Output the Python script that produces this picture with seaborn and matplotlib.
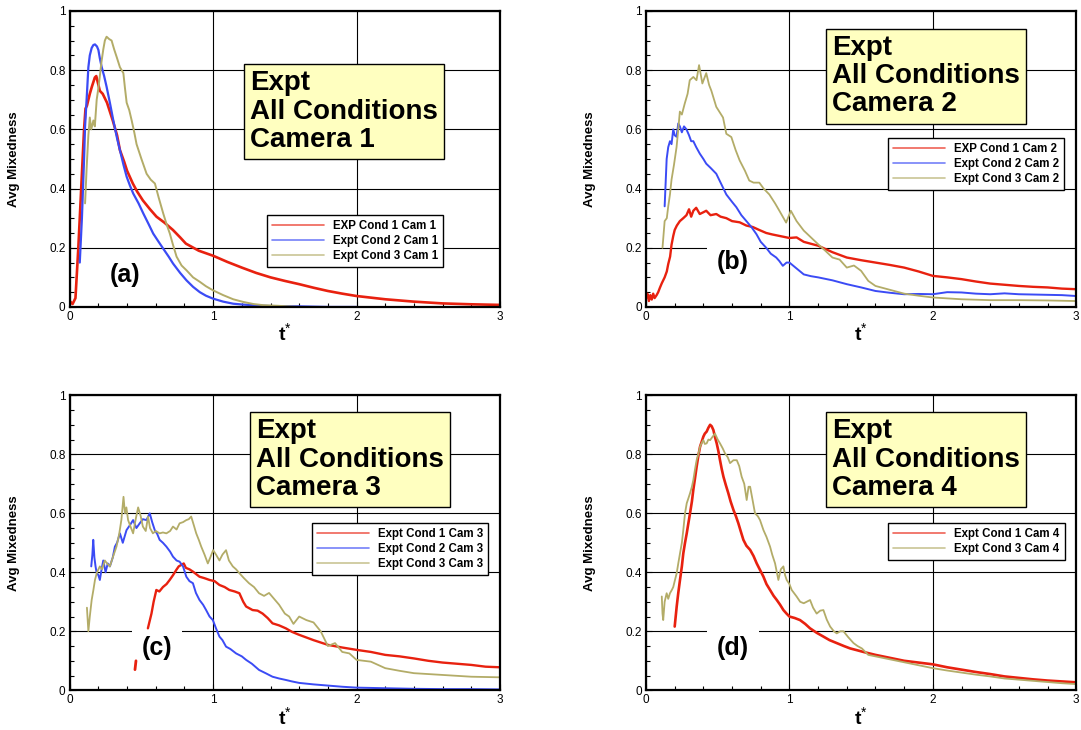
import matplotlib
matplotlib.use("Agg")
import matplotlib.pyplot as plt
from matplotlib.ticker import MultipleLocator, FuncFormatter
import seaborn as sns

# ---------------- data ----------------
# panel (a) - camera 1
a_red_t = [0.0, 0.02, 0.04, 0.06, 0.07, 0.085, 0.1, 0.11, 0.12, 0.13,
           0.14, 0.155, 0.165, 0.175, 0.185, 0.195, 0.21, 0.23, 0.26, 0.28,
           0.30, 0.33, 0.35, 0.38, 0.40, 0.44, 0.47, 0.51, 0.56, 0.605,
           0.66, 0.72, 0.77, 0.81, 0.9, 1.0, 1.1, 1.2, 1.3, 1.4,
           1.5, 1.6, 1.7, 1.8, 1.9, 2.0, 2.2, 2.4, 2.6, 2.8, 3.0]
a_red = [0.02, 0.01, 0.03, 0.2, 0.3, 0.45, 0.6, 0.67, 0.68, 0.70,
         0.72, 0.745, 0.76, 0.775, 0.78, 0.76, 0.73, 0.72, 0.69, 0.66,
         0.63, 0.58, 0.53, 0.49, 0.46, 0.417, 0.39, 0.36, 0.33, 0.305,
         0.285, 0.26, 0.235, 0.214, 0.19, 0.173, 0.152, 0.133, 0.115, 0.10,
         0.088, 0.077, 0.065, 0.054, 0.045, 0.037, 0.026, 0.018, 0.012, 0.009, 0.007]
a_blue_t = [0.07, 0.085, 0.1, 0.107, 0.12, 0.13, 0.14, 0.153, 0.165, 0.176,
            0.19, 0.2, 0.21, 0.223, 0.24, 0.257, 0.28, 0.304, 0.33, 0.35,
            0.375, 0.397, 0.42, 0.443, 0.48, 0.513, 0.55, 0.582, 0.62, 0.652,
            0.69, 0.72, 0.77, 0.814, 0.86, 0.907, 0.95, 1.0, 1.07, 1.14,
            1.21, 1.28, 1.4, 1.6, 1.8, 2.0]
a_blue = [0.15, 0.3, 0.5, 0.61, 0.72, 0.81, 0.85, 0.875, 0.885, 0.887,
          0.88, 0.868, 0.84, 0.81, 0.78, 0.744, 0.69, 0.63, 0.57, 0.53,
          0.48, 0.44, 0.41, 0.383, 0.35, 0.316, 0.28, 0.248, 0.22, 0.197,
          0.17, 0.147, 0.115, 0.09, 0.068, 0.05, 0.038, 0.028, 0.018, 0.011,
          0.008, 0.006, 0.003, 0.002, 0.0, 0.0]
a_olive_t = [0.107, 0.118, 0.13, 0.14, 0.15, 0.165, 0.175, 0.188, 0.2, 0.21,
             0.222, 0.234, 0.245, 0.257, 0.275, 0.292, 0.31, 0.327, 0.35, 0.374,
             0.385, 0.397, 0.415, 0.432, 0.45, 0.466, 0.5, 0.536, 0.565, 0.594,
             0.62, 0.652, 0.675, 0.698, 0.72, 0.745, 0.78, 0.814, 0.86, 0.907,
             0.95, 1.0, 1.07, 1.14, 1.21, 1.28, 1.35, 1.45, 1.6]
a_olive = [0.35, 0.47, 0.58, 0.64, 0.6, 0.63, 0.61, 0.70, 0.74, 0.78,
           0.83, 0.87, 0.9, 0.913, 0.905, 0.90, 0.87, 0.845, 0.81, 0.79,
           0.74, 0.69, 0.665, 0.63, 0.59, 0.55, 0.50, 0.45, 0.43, 0.417,
           0.37, 0.316, 0.28, 0.248, 0.21, 0.17, 0.14, 0.124, 0.10, 0.085,
           0.07, 0.056, 0.04, 0.026, 0.017, 0.01, 0.006, 0.004, 0.0]

# panel (b) - camera 2
b_red_t = [0.0, 0.01, 0.02, 0.03, 0.04, 0.05, 0.06, 0.074, 0.085, 0.097,
           0.11, 0.13, 0.145, 0.155, 0.168, 0.178, 0.19, 0.2, 0.215, 0.236,
           0.26, 0.282, 0.3, 0.315, 0.33, 0.35, 0.375, 0.4, 0.42, 0.45,
           0.49, 0.52, 0.56, 0.6, 0.653, 0.7, 0.745, 0.79, 0.838, 0.88,
           0.93, 1.0, 1.05, 1.1, 1.2, 1.3, 1.4, 1.5, 1.6, 1.7,
           1.8, 1.9, 2.0, 2.1, 2.2, 2.3, 2.4, 2.5, 2.6, 2.7,
           2.8, 2.9, 3.0]
b_red = [0.03, 0.045, 0.02, 0.04, 0.025, 0.045, 0.03, 0.04, 0.05, 0.065,
         0.08, 0.1, 0.12, 0.145, 0.17, 0.21, 0.24, 0.26, 0.275, 0.29,
         0.30, 0.31, 0.33, 0.305, 0.325, 0.335, 0.314, 0.32, 0.325, 0.31,
         0.314, 0.305, 0.30, 0.29, 0.286, 0.275, 0.27, 0.26, 0.25, 0.245,
         0.24, 0.233, 0.235, 0.22, 0.207, 0.185, 0.167, 0.158, 0.15, 0.142,
         0.133, 0.12, 0.105, 0.1, 0.094, 0.086, 0.079, 0.075, 0.071, 0.068,
         0.066, 0.062, 0.06]
b_blue_t = [0.13, 0.137, 0.144, 0.155, 0.167, 0.178, 0.19, 0.2, 0.213, 0.225,
            0.236, 0.25, 0.265, 0.282, 0.3, 0.315, 0.33, 0.35, 0.375, 0.4,
            0.42, 0.45, 0.49, 0.52, 0.56, 0.6, 0.63, 0.665, 0.7, 0.735,
            0.77, 0.8, 0.838, 0.87, 0.908, 0.93, 0.954, 0.98, 1.0, 1.05,
            1.1, 1.15, 1.2, 1.3, 1.4, 1.5, 1.6, 1.7, 1.8, 1.9,
            2.0, 2.1, 2.2, 2.3, 2.4, 2.5, 2.6, 2.7, 2.8, 2.9, 3.0]
b_blue = [0.34, 0.42, 0.5, 0.54, 0.56, 0.55, 0.60, 0.58, 0.575, 0.62,
          0.61, 0.59, 0.61, 0.60, 0.58, 0.56, 0.56, 0.54, 0.518, 0.50,
          0.484, 0.47, 0.45, 0.42, 0.38, 0.355, 0.337, 0.31, 0.29, 0.27,
          0.246, 0.22, 0.2, 0.18, 0.167, 0.155, 0.139, 0.15, 0.15, 0.13,
          0.11, 0.104, 0.1, 0.09, 0.077, 0.066, 0.054, 0.048, 0.043, 0.044,
          0.043, 0.05, 0.049, 0.045, 0.043, 0.046, 0.043, 0.042, 0.041, 0.04, 0.037]
b_olive_t = [0.115, 0.13, 0.145, 0.155, 0.167, 0.178, 0.195, 0.213, 0.225, 0.236,
             0.25, 0.27, 0.29, 0.305, 0.33, 0.352, 0.37, 0.393, 0.42, 0.44,
             0.456, 0.49, 0.537, 0.56, 0.595, 0.625, 0.653, 0.69, 0.72, 0.75,
             0.79, 0.82, 0.86, 0.9, 0.93, 0.977, 1.01, 1.05, 1.1, 1.15,
             1.2, 1.25, 1.3, 1.35, 1.4, 1.45, 1.5, 1.55, 1.6, 1.7,
             1.8, 1.9, 2.0, 2.2, 2.4, 2.6, 2.8, 3.0]
b_olive = [0.2, 0.29, 0.3, 0.34, 0.38, 0.43, 0.48, 0.54, 0.6, 0.66,
           0.65, 0.687, 0.72, 0.766, 0.777, 0.766, 0.817, 0.755, 0.79, 0.75,
           0.73, 0.676, 0.64, 0.585, 0.574, 0.53, 0.495, 0.46, 0.427, 0.42,
           0.42, 0.40, 0.38, 0.35, 0.325, 0.285, 0.325, 0.29, 0.258, 0.235,
           0.212, 0.19, 0.167, 0.16, 0.133, 0.14, 0.122, 0.088, 0.071, 0.058,
           0.045, 0.038, 0.032, 0.026, 0.023, 0.023, 0.022, 0.02]

# panel (c) - camera 3
c_red_stub_t = [0.455, 0.462]
c_red_stub = [0.07, 0.10]
c_red_t = [0.545, 0.56, 0.57, 0.585, 0.604, 0.625, 0.65, 0.675, 0.697, 0.72,
           0.743, 0.76, 0.778, 0.795, 0.81, 0.835, 0.86, 0.905, 0.94, 0.975,
           1.01, 1.044, 1.08, 1.113, 1.15, 1.183, 1.21, 1.23, 1.275, 1.31,
           1.345, 1.38, 1.414, 1.46, 1.507, 1.55, 1.6, 1.7, 1.8, 1.9,
           2.0, 2.1, 2.2, 2.3, 2.4, 2.5, 2.6, 2.7, 2.8, 2.9, 3.0]
c_red = [0.21, 0.24, 0.26, 0.30, 0.34, 0.335, 0.35, 0.36, 0.374, 0.39,
         0.408, 0.42, 0.425, 0.43, 0.415, 0.41, 0.402, 0.385, 0.38, 0.374,
         0.37, 0.357, 0.35, 0.34, 0.335, 0.329, 0.30, 0.284, 0.272, 0.27,
         0.26, 0.245, 0.227, 0.22, 0.21, 0.198, 0.188, 0.17, 0.154, 0.145,
         0.137, 0.13, 0.12, 0.115, 0.108, 0.1, 0.094, 0.09, 0.086, 0.08, 0.078]
c_blue_t = [0.15, 0.158, 0.164, 0.172, 0.18, 0.187, 0.2, 0.21, 0.222, 0.234,
            0.25, 0.265, 0.28, 0.3, 0.315, 0.33, 0.35, 0.37, 0.396, 0.42,
            0.442, 0.465, 0.488, 0.51, 0.535, 0.558, 0.575, 0.593, 0.61, 0.627,
            0.65, 0.674, 0.7, 0.72, 0.745, 0.766, 0.79, 0.813, 0.835, 0.859,
            0.88, 0.905, 0.93, 0.951, 0.975, 0.998, 1.02, 1.044, 1.065, 1.09,
            1.12, 1.16, 1.2, 1.23, 1.27, 1.32, 1.37, 1.414, 1.46, 1.507,
            1.55, 1.6, 1.7, 1.8, 1.9, 2.0, 2.2, 2.4, 2.6, 2.8, 3.0]
c_blue = [0.42, 0.46, 0.51, 0.45, 0.42, 0.40, 0.39, 0.374, 0.41, 0.44,
          0.40, 0.43, 0.42, 0.45, 0.487, 0.50, 0.532, 0.50, 0.543, 0.56,
          0.577, 0.55, 0.566, 0.58, 0.577, 0.6, 0.57, 0.543, 0.53, 0.51,
          0.5, 0.487, 0.47, 0.453, 0.44, 0.436, 0.42, 0.385, 0.37, 0.363,
          0.33, 0.306, 0.29, 0.272, 0.25, 0.238, 0.21, 0.182, 0.17, 0.148,
          0.14, 0.125, 0.115, 0.103, 0.09, 0.069, 0.057, 0.046, 0.04, 0.035,
          0.03, 0.025, 0.02, 0.016, 0.012, 0.009, 0.007, 0.005, 0.004, 0.004, 0.003]
c_olive_t = [0.12, 0.125, 0.13, 0.14, 0.153, 0.165, 0.176, 0.19, 0.21, 0.225,
             0.245, 0.26, 0.28, 0.3, 0.326, 0.345, 0.36, 0.375, 0.385, 0.395,
             0.407, 0.42, 0.442, 0.46, 0.477, 0.495, 0.51, 0.53, 0.546, 0.56,
             0.58, 0.6, 0.627, 0.65, 0.674, 0.7, 0.72, 0.745, 0.766, 0.79,
             0.813, 0.83, 0.847, 0.865, 0.882, 0.9, 0.917, 0.94, 0.963, 0.98,
             1.0, 1.02, 1.044, 1.065, 1.09, 1.11, 1.137, 1.16, 1.183, 1.215,
             1.25, 1.285, 1.32, 1.355, 1.39, 1.425, 1.46, 1.5, 1.53, 1.56,
             1.6, 1.65, 1.7, 1.75, 1.8, 1.85, 1.9, 1.95, 2.0, 2.1,
             2.2, 2.3, 2.4, 2.6, 2.8, 3.0]
c_olive = [0.28, 0.24, 0.2, 0.25, 0.306, 0.34, 0.374, 0.40, 0.42, 0.41,
           0.44, 0.43, 0.42, 0.45, 0.487, 0.53, 0.577, 0.656, 0.6, 0.62,
           0.577, 0.56, 0.532, 0.58, 0.62, 0.59, 0.555, 0.54, 0.589, 0.55,
           0.532, 0.54, 0.532, 0.535, 0.532, 0.54, 0.555, 0.545, 0.566, 0.57,
           0.577, 0.58, 0.589, 0.56, 0.532, 0.51, 0.487, 0.46, 0.43, 0.45,
           0.475, 0.46, 0.44, 0.46, 0.475, 0.44, 0.42, 0.41, 0.397, 0.38,
           0.363, 0.35, 0.329, 0.32, 0.33, 0.31, 0.29, 0.26, 0.25, 0.225,
           0.25, 0.238, 0.23, 0.2, 0.15, 0.16, 0.13, 0.125, 0.103, 0.097,
           0.075, 0.066, 0.058, 0.052, 0.046, 0.044]

# panel (d) - camera 4
d_red_t = [0.2, 0.214, 0.225, 0.237, 0.25, 0.26, 0.272, 0.284, 0.295, 0.307,
           0.32, 0.33, 0.342, 0.353, 0.365, 0.377, 0.39, 0.4, 0.41, 0.423,
           0.435, 0.447, 0.458, 0.47, 0.48, 0.493, 0.505, 0.516, 0.528, 0.54,
           0.557, 0.574, 0.59, 0.61, 0.627, 0.644, 0.66, 0.679, 0.7, 0.726,
           0.75, 0.772, 0.795, 0.819, 0.84, 0.865, 0.89, 0.912, 0.935, 0.958,
           0.98, 1.0, 1.037, 1.074, 1.11, 1.144, 1.19, 1.237, 1.28, 1.33,
           1.38, 1.423, 1.47, 1.516, 1.6, 1.7, 1.8, 1.9, 2.0, 2.1,
           2.2, 2.3, 2.4, 2.5, 2.6, 2.7, 2.8, 2.9, 3.0]
d_red = [0.216, 0.284, 0.33, 0.374, 0.42, 0.464, 0.5, 0.532, 0.565, 0.6,
         0.64, 0.68, 0.72, 0.758, 0.795, 0.826, 0.845, 0.86, 0.87, 0.877,
         0.89, 0.9, 0.895, 0.882, 0.86, 0.837, 0.81, 0.78, 0.75, 0.724,
         0.695, 0.668, 0.64, 0.611, 0.59, 0.566, 0.54, 0.51, 0.49, 0.476,
         0.455, 0.43, 0.408, 0.385, 0.36, 0.34, 0.32, 0.306, 0.29, 0.272,
         0.26, 0.25, 0.245, 0.238, 0.225, 0.21, 0.195, 0.182, 0.17, 0.16,
         0.15, 0.142, 0.136, 0.13, 0.12, 0.11, 0.1, 0.094, 0.088, 0.078,
         0.07, 0.062, 0.055, 0.047, 0.042, 0.037, 0.033, 0.03, 0.027]
d_olive_t = [0.11, 0.115, 0.12, 0.13, 0.144, 0.155, 0.167, 0.18, 0.19, 0.2,
             0.214, 0.225, 0.237, 0.25, 0.26, 0.272, 0.284, 0.295, 0.307, 0.32,
             0.33, 0.342, 0.353, 0.365, 0.377, 0.39, 0.4, 0.41, 0.423, 0.435,
             0.447, 0.465, 0.481, 0.5, 0.516, 0.535, 0.551, 0.57, 0.586, 0.61,
             0.633, 0.65, 0.667, 0.685, 0.702, 0.715, 0.726, 0.745, 0.76, 0.78,
             0.795, 0.819, 0.84, 0.865, 0.88, 0.9, 0.923, 0.94, 0.958, 0.97,
             0.981, 1.0, 1.016, 1.05, 1.075, 1.1, 1.12, 1.144, 1.165, 1.19,
             1.215, 1.237, 1.26, 1.284, 1.31, 1.33, 1.355, 1.377, 1.41, 1.447,
             1.475, 1.505, 1.55, 1.6, 1.7, 1.8, 1.9, 2.0, 2.1, 2.2,
             2.3, 2.4, 2.5, 2.6, 2.7, 2.8, 2.9, 3.0]
d_olive = [0.318, 0.26, 0.238, 0.3, 0.329, 0.31, 0.329, 0.34, 0.35, 0.37,
           0.397, 0.43, 0.464, 0.5, 0.543, 0.6, 0.634, 0.65, 0.668, 0.69,
           0.713, 0.75, 0.78, 0.8, 0.826, 0.84, 0.848, 0.835, 0.837, 0.85,
           0.848, 0.86, 0.87, 0.85, 0.837, 0.82, 0.803, 0.79, 0.77, 0.78,
           0.78, 0.76, 0.724, 0.7, 0.645, 0.69, 0.69, 0.64, 0.6, 0.59,
           0.577, 0.543, 0.52, 0.487, 0.46, 0.43, 0.374, 0.41, 0.42, 0.39,
           0.374, 0.36, 0.34, 0.318, 0.3, 0.295, 0.3, 0.306, 0.28, 0.26,
           0.27, 0.272, 0.24, 0.216, 0.2, 0.193, 0.2, 0.2, 0.18, 0.16,
           0.15, 0.142, 0.12, 0.115, 0.105, 0.095, 0.085, 0.075, 0.067, 0.06,
           0.053, 0.047, 0.04, 0.036, 0.032, 0.028, 0.024, 0.021]

labels_a = ["EXP Cond 1 Cam 1", "Expt Cond 2 Cam 1", "Expt Cond 3 Cam 1"]
labels_b = ["EXP Cond 1 Cam 2", "Expt Cond 2 Cam 2", "Expt Cond 3 Cam 2"]
labels_c = ["Expt Cond 1 Cam 3", "Expt Cond 2 Cam 3", "Expt Cond 3 Cam 3"]
labels_d = ["Expt Cond 1 Cam 4", "Expt Cond 3 Cam 4"]

# ---------------- style ----------------
sns.set_style("ticks")
plt.rcParams["font.family"] = ["Liberation Sans", "DejaVu Sans"]
plt.rcParams["mathtext.fontset"] = "custom"
plt.rcParams["mathtext.rm"] = "Liberation Sans"
plt.rcParams["mathtext.bf"] = "Liberation Sans:bold"
for k in ["text.color", "axes.labelcolor", "xtick.color", "ytick.color", "axes.edgecolor"]:
    plt.rcParams[k] = "black"

RED = "#e8210f"
BLUE = "#3b4bf5"
OLIVE = "#b3ac68"
YELLOW = "#ffffc0"

fig = plt.figure(figsize=(10.81, 7.30), dpi=100)

W = 0.398
pos = {
    "a": [0.0645, 0.5795, W, 0.4055],
    "b": [0.5976, 0.5795, W, 0.4055],
    "c": [0.0645, 0.0544, W, 0.4041],
    "d": [0.5976, 0.0544, W, 0.4041],
}


def make_panel(key, lines, labels, camera, box_x, box_y, leg_anchor, tag_x, tag_y, extra=None):
    ax = fig.add_axes(pos[key])
    for (t, v, color, lw), lab in zip(lines, labels):
        sns.lineplot(x=t, y=v, color=color, lw=lw, label=lab, ax=ax, estimator=None)
    if extra is not None:
        t, v, color, lw = extra
        sns.lineplot(x=t, y=v, color=color, lw=lw, ax=ax, estimator=None, legend=False)

    ax.set_xlim(0, 3)
    ax.set_ylim(0, 1)
    ax.xaxis.set_major_locator(MultipleLocator(1))
    ax.xaxis.set_minor_locator(MultipleLocator(0.2))
    ax.yaxis.set_major_locator(MultipleLocator(0.2))
    ax.yaxis.set_minor_locator(MultipleLocator(0.05))
    ax.yaxis.set_major_formatter(FuncFormatter(lambda v, _: f"{v:g}"))
    ax.grid(True, which="major", color="black", lw=0.8)
    ax.tick_params(which="both", direction="in", labelsize=8.5, width=0.8, color="black")
    ax.tick_params(which="major", length=4, pad=3)
    ax.tick_params(which="minor", length=3)
    for s in ax.spines.values():
        s.set_visible(True)
        s.set_linewidth(1.6)
        s.set_color("black")
    ax.set_xlabel("")
    ax.set_ylabel("")

    ax.text(-0.13, 0.5, "Avg Mixedness", transform=ax.transAxes, rotation=90,
            ha="center", va="center", fontsize=9.5, fontweight="bold")
    ax.text(0.5, -0.092, r"$\mathbf{t}^{*}$", transform=ax.transAxes,
            ha="center", va="center", fontsize=14)

    ax.text(box_x, box_y, f"Expt\nAll Conditions\nCamera {camera}", ha="left", va="center",
            fontsize=20, fontweight="bold", linespacing=1.12, zorder=6,
            bbox=dict(boxstyle="square,pad=0.22", fc=YELLOW, ec="black", lw=1.0))

    # white patch behind the panel tag sits under the curves but over the grid
    ax.text(tag_x, tag_y, f"({key})", ha="center", va="center",
            fontsize=18, fontweight="bold", zorder=1.9,
            bbox=dict(boxstyle="square,pad=0.4", fc="white", ec="none"))

    leg = ax.legend(loc="upper left", bbox_to_anchor=leg_anchor, frameon=True, fancybox=False,
                    edgecolor="black", framealpha=1, prop={"weight": "bold", "size": 8.3},
                    handlelength=4.5, handletextpad=0.8, labelspacing=0.25,
                    borderpad=0.45, borderaxespad=0)
    leg.get_frame().set_linewidth(1.0)
    leg.set_zorder(7)
    for h in leg.legend_handles:
        h.set_alpha(0.7)
        h.set_linewidth(1.2)
    return ax


make_panel("a",
           [(a_red_t, a_red, RED, 1.9), (a_blue_t, a_blue, BLUE, 1.6), (a_olive_t, a_olive, OLIVE, 1.4)],
           labels_a, 1, 1.257, 0.659, (0.458, 0.311), 0.385, 0.108)
make_panel("b",
           [(b_red_t, b_red, RED, 1.7), (b_blue_t, b_blue, BLUE, 1.4), (b_olive_t, b_olive, OLIVE, 1.3)],
           labels_b, 2, 1.296, 0.78, (0.562, 0.571), 0.606, 0.152)
make_panel("c",
           [(c_red_t, c_red, RED, 1.7), (c_blue_t, c_blue, BLUE, 1.4), (c_olive_t, c_olive, OLIVE, 1.3)],
           labels_c, 3, 1.297, 0.782, (0.5625, 0.567), 0.608, 0.142,
           extra=(c_red_stub_t, c_red_stub, RED, 2.0))
make_panel("d",
           [(d_red_t, d_red, RED, 1.9), (d_olive_t, d_olive, OLIVE, 1.3)],
           labels_d, 4, 1.296, 0.782, (0.562, 0.567), 0.606, 0.142)

fig.savefig("out.png", dpi=100)
